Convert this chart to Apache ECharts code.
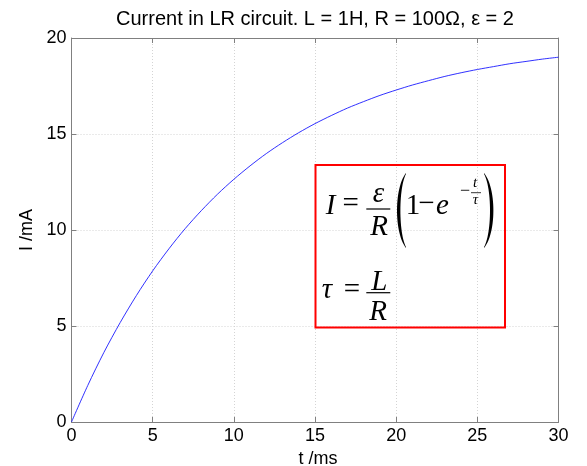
<!DOCTYPE html>
<html>
<head>
<meta charset="utf-8">
<title>Current in LR circuit</title>
<script src="https://cdn.jsdelivr.net/npm/echarts@6/dist/echarts.min.js"></script>
<style>
  html, body { margin: 0; padding: 0; background: #ffffff; }
  #chart { width: 587px; height: 466px; }
</style>
</head>
<body>
<div id="chart"></div>
<script>
// Time after switch-on (ms) and current through the coil (mA)
const timeMs = [0, 1, 2, 3, 4, 5, 6, 7, 8, 9, 10, 11, 12, 13, 14, 15,
  16, 17, 18, 19, 20, 21, 22, 23, 24, 25, 26, 27, 28, 29, 30];
const currentMA = [0, 1.90, 3.63, 5.18, 6.59, 7.87, 9.02, 10.07, 11.01, 11.87,
  12.64, 13.34, 13.98, 14.55, 15.07, 15.54, 15.96, 16.35, 16.69, 17.01,
  17.29, 17.55, 17.78, 18.00, 18.19, 18.36, 18.51, 18.66, 18.78, 18.90, 19.00];

// Axis tick values
const xTicks = [0, 5, 10, 15, 20, 25, 30];
const yTicks = [0, 5, 10, 15, 20];

const titleText = 'Current in LR circuit. L = 1H, R = 100\u03A9, \u03B5 = 2';

const SANS = '"Liberation Sans", Arial, Helvetica, sans-serif';
const SERIF = '"Liberation Serif", "Times New Roman", serif';
const AXIS_GREY = '#808080';

const chart = echarts.init(document.getElementById('chart'), null, { renderer: 'canvas' });

const xMin = xTicks[0], xMax = xTicks[xTicks.length - 1], xStep = xTicks[1] - xTicks[0];
const yMin = yTicks[0], yMax = yTicks[yTicks.length - 1], yStep = yTicks[1] - yTicks[0];

function valueAxis(extra) {
  return Object.assign({
    type: 'value',
    axisLine: { show: true, onZero: false, lineStyle: { color: AXIS_GREY, width: 1 } },
    axisTick: { show: true, inside: true, length: 5, lineStyle: { color: AXIS_GREY, width: 1 } },
    splitLine: { show: false },
    axisLabel: { show: false }
  }, extra);
}

const points = timeMs.map((t, i) => [t, currentMA[i]]);

// Formula box: I = (ε/R)(1 − e^(−t/τ)),  τ = L/R
function txt(text, x, y, size, italic, align) {
  return {
    type: 'text', silent: true, z: 100,
    style: {
      text: text, x: x, y: y,
      font: (italic ? 'italic ' : '') + size + 'px ' + SERIF,
      fill: '#000',
      align: align || 'center',
      verticalAlign: 'middle'
    }
  };
}
function bar(x1, x2, y, w) {
  return {
    type: 'line', silent: true, z: 100,
    shape: { x1: x1, y1: y, x2: x2, y2: y },
    style: { stroke: '#000', lineWidth: w || 1.2 }
  };
}
// Tall bracket: crescent between two cubic curves sharing the same end points.
// tip: x of the bracket ends, top/bottom: y range, outer/inner: bulge x controls
function paren(tip, top, bottom, outer, inner) {
  const cubic = (p0, p1, p2, p3, s) => {
    const u = 1 - s;
    return u * u * u * p0 + 3 * u * u * s * p1 + 3 * u * s * s * p2 + s * s * s * p3;
  };
  const y1 = top + (bottom - top) * 0.2, y2 = top + (bottom - top) * 0.8;
  const pts = [];
  const n = 28;
  for (let i = 0; i <= n; i++) {
    const s = i / n;
    pts.push([cubic(tip, outer, outer, tip, s), cubic(top, y1, y2, bottom, s)]);
  }
  for (let i = n; i >= 0; i--) {
    const s = i / n;
    pts.push([cubic(tip, inner, inner, tip, s), cubic(top + 1, y1, y2, bottom - 1, s)]);
  }
  return { type: 'polygon', silent: true, z: 100, shape: { points: pts }, style: { fill: '#000' } };
}

const F = 29;
const S = 15;
const formula = [
  {
    type: 'rect', silent: true, z: 90,
    shape: { x: 315.5, y: 165, width: 189.5, height: 162.5 },
    style: { fill: 'none', stroke: '#ff0000', lineWidth: 2 }
  },
  txt('I', 330.5, 206, F, true),
  txt('=', 350.7, 204.5, F, false),
  txt('\u03B5', 378.5, 194, F, true),
  bar(366.3, 390.3, 209),
  txt('R', 379, 227, F, true),
  paren(406, 173, 248, 394, 398.5),
  txt('1', 413, 206, F, false),
  txt('\u2212', 426.5, 204.5, F, false),
  txt('e', 442.5, 206, F, true),
  txt('\u2212', 465, 191, 18, false),
  txt('t', 475, 183.2, S, true),
  bar(471, 481, 192.7, 0.8),
  txt('\u03C4', 475.5, 200, S, true),
  paren(484, 173, 248, 496.5, 492),
  txt('\u03C4', 327, 290.5, F, true),
  txt('=', 352, 290.5, F, false),
  txt('L', 379.3, 282.2, F, true),
  bar(366.3, 390.3, 292.7),
  txt('R', 378, 312.2, F, true)
];

const option = {
  animation: false,
  backgroundColor: '#ffffff',
  title: {
    text: titleText,
    left: 310,
    textAlign: 'center',
    top: 4,
    textStyle: { fontFamily: SANS, fontSize: 20, fontWeight: 'normal', color: '#000' }
  },
  grid: {
    left: 71.5, right: 28.5, top: 38, bottom: 44,
    outerBoundsMode: 'none',
    show: false
  },
  xAxis: [
    valueAxis({
      position: 'bottom',
      min: xMin, max: xMax, interval: xStep,
      name: 't /ms', nameLocation: 'middle', nameGap: 24,
      nameTextStyle: { fontFamily: SANS, fontSize: 18, color: '#000', padding: [0, 0, 0, 6] },
      axisLabel: { show: true, fontFamily: SANS, fontSize: 18, color: '#000', margin: 5 },
      splitLine: { show: true, lineStyle: { color: '#d4d4d4', type: [1, 2], width: 1 } }
    }),
    valueAxis({ position: 'top', min: xMin, max: xMax, interval: xStep })
  ],
  yAxis: [
    valueAxis({
      position: 'left',
      min: yMin, max: yMax, interval: yStep,
      name: 'I /mA', nameLocation: 'middle', nameGap: 35,
      nameTextStyle: { fontFamily: SANS, fontSize: 18, color: '#000' },
      axisLabel: { show: true, fontFamily: SANS, fontSize: 18, color: '#000', margin: 5 },
      splitLine: { show: true, lineStyle: { color: '#d4d4d4', type: [1, 2], width: 1 } }
    }),
    valueAxis({ position: 'right', min: yMin, max: yMax, interval: yStep })
  ],
  series: [{
    type: 'line',
    xAxisIndex: 0, yAxisIndex: 0,
    data: points,
    showSymbol: false,
    smooth: 0.3,
    lineStyle: { color: '#1a1aff', width: 0.9 },
    z: 5
  }],
  graphic: formula
};

chart.setOption(option);
</script>
</body>
</html>
